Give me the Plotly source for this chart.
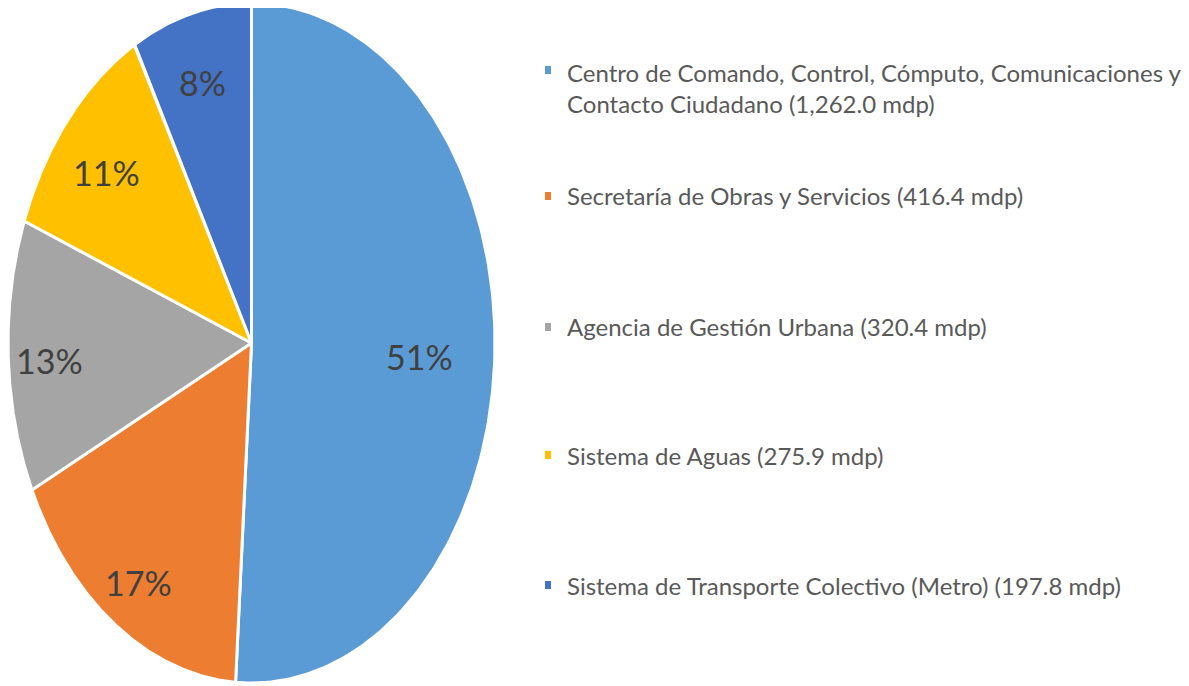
import numpy as np
import plotly.graph_objects as go

labels = [
    "Centro de Comando, Control, Cómputo, Comunicaciones y<br>Contacto Ciudadano (1,262.0 mdp)",
    "Secretaría de Obras y Servicios (416.4 mdp)",
    "Agencia de Gestión Urbana (320.4 mdp)",
    "Sistema de Aguas (275.9 mdp)",
    "Sistema de Transporte Colectivo (Metro) (197.8 mdp)",
]
values = [1262.0, 416.4, 320.4, 275.9, 197.8]
colors = ["#5B9BD5", "#ED7D31", "#A5A5A5", "#FFC000", "#4472C4"]

# label placement radius (fraction of pie radius) per slice — style only
label_r = [0.69, 0.83, 0.83, 0.79, 0.81]
# legend text centre y positions in page pixels — layout only
legend_px = [88, 196, 327, 455, 585]

W, H = 1189, 686
OFF = 8  # page body margin offset
cx_px, cy_px = 251.5 - OFF, 343.0 - OFF
rx_px, ry_px = 243.5, 340.0
FONT = "Lato, Open Sans, sans-serif"

total = sum(values)
fracs = [v / total for v in values]

fig = go.Figure()
start = 0.0
for i, (f, c) in enumerate(zip(fracs, colors)):
    a = np.linspace(start, start + f, 200) * 2 * np.pi
    xs = np.concatenate([[0], np.sin(a), [0]])
    ys = np.concatenate([[0], np.cos(a), [0]])
    fig.add_trace(go.Scatter(
        x=xs, y=ys, mode="lines", fill="toself", fillcolor=c,
        line=dict(color="white", width=3), showlegend=False, hoverinfo="skip",
    ))
    start += f

# percentage labels (annotations in data coordinates)
start = 0.0
for i, f in enumerate(fracs):
    mid = (start + f / 2) * 2 * np.pi
    fig.add_annotation(
        x=label_r[i] * np.sin(mid), y=label_r[i] * np.cos(mid), xref="x", yref="y",
        text=f"{round(f * 100):.0f}%", showarrow=False, yshift=-6,
        font=dict(family=FONT, size=34, color="#404040"),
    )
    start += f

# axes ranges so the unit circle maps to the elliptical pie
x0 = -cx_px / rx_px
x1 = (W - cx_px) / rx_px
y1 = cy_px / ry_px
y0 = -(H - cy_px) / ry_px

def py(page_y):
    return 1 - (page_y - OFF) / H

def px(page_x):
    return (page_x - OFF) / W

# legend (markers as shapes, text as annotations)
for i, (lab, c) in enumerate(zip(labels, colors)):
    yc = legend_px[i]
    mark_y = yc - (18 if "<br>" in lab else 0)
    fig.add_shape(type="rect", xref="paper", yref="paper",
                  x0=px(545), x1=px(551), y0=py(mark_y + 4), y1=py(mark_y - 4),
                  fillcolor=c, line=dict(width=0))
    fig.add_annotation(xref="paper", yref="paper", x=px(565), y=py(yc), text=lab,
                       showarrow=False, xanchor="left", yanchor="middle", align="left",
                       font=dict(family=FONT, size=24, color="#595959"))

fig.update_layout(
    width=W, height=H, margin=dict(l=0, r=0, t=0, b=0),
    paper_bgcolor="white", plot_bgcolor="white",
    xaxis=dict(range=[x0, x1], visible=False, fixedrange=True),
    yaxis=dict(range=[y0, y1], visible=False, fixedrange=True),
)
fig.write_html("out.html")
